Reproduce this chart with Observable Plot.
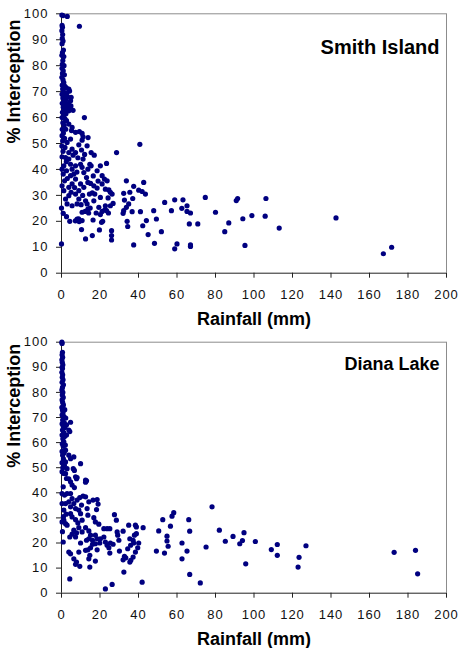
<!DOCTYPE html>
<html>
<head>
<meta charset="utf-8">
<script src="https://cdn.jsdelivr.net/npm/d3@7"></script>
<script src="https://cdn.jsdelivr.net/npm/@observablehq/plot@0.6"></script>
<style>
  html, body { margin: 0; padding: 0; background: white; }
  #chart { width: 459px; }
  svg { display: block; }
  g[aria-label="x-axis tick label"] text, g[aria-label="y-axis tick label"] text { letter-spacing: 1px; }
</style>
</head>
<body>
<div id="chart"></div>
<script>
const xTicks = [0, 20, 40, 60, 80, 100, 120, 140, 160, 180, 200];
const yTicks = [0, 10, 20, 30, 40, 50, 60, 70, 80, 90, 100];
const xLabel = "Rainfall (mm)";
const yLabel = "% Interception";
const titles = ["Smith Island", "Diana Lake"];

// [rainfall mm, % interception]
const smithPoints = [
  [0.2,99.5],[0.8,99.3],[3.0,99.0],[9.3,95.2],[0.3,95.5],[0.5,94.8],[0.2,93.5],[0.6,92.0],[0.4,90.5],[0.8,89.5],
  [0.3,88.5],[1.0,86.0],[0.5,85.0],[0.2,84.0],[1.2,83.5],[0.7,82.0],[0.4,80.5],[1.3,80.0],[0.3,79.0],[0.9,78.0],
  [0.5,77.0],[1.5,76.5],[0.2,75.5],[0.8,74.5],[1.2,73.5],[0.4,72.5],[1.8,72.0],[2.5,71.5],[0.6,71.0],[3.8,71.0],
  [1.0,70.0],[2.8,69.5],[0.3,69.0],[1.5,68.5],[3.2,68.0],[0.7,67.5],[2.2,67.0],[4.7,66.5],[1.2,66.0],[0.4,65.5],
  [3.6,65.5],[2.0,65.0],[4.9,64.5],[0.9,64.0],[2.8,63.5],[4.7,63.3],[1.6,62.8],[3.8,62.6],[6.0,62.8],[0.5,62.0],
  [2.3,61.5],[1.1,60.5],[0.3,60.0],[1.8,59.5],[2.6,58.8],[0.7,58.0],[3.8,57.5],[1.4,57.0],[5.5,56.2],[0.4,55.5],
  [2.2,55.5],[5.2,55.0],[7.3,54.3],[1.0,54.0],[9.3,54.6],[10.7,53.9],[0.3,53.0],[11.2,52.6],[13.8,52.3],[1.6,52.0],
  [4.7,51.7],[10.7,51.3],[0.6,51.0],[2.9,50.4],[9.0,49.5],[13.3,49.1],[0.2,49.0],[1.8,48.5],[5.5,47.8],[10.4,47.5],
  [0.8,47.0],[3.8,46.5],[7.3,46.5],[15.4,46.5],[28.6,46.5],[40.7,49.7],[11.9,60.0],[4.2,70.2],[5.0,67.8],[3.0,64.8],
  [0.3,44.9],[2.1,44.6],[3.8,44.0],[1.2,41.4],[0.3,40.1],[2.6,39.5],[4.7,42.0],[5.5,40.1],[6.4,38.2],[4.7,37.6],
  [7.3,41.4],[7.3,36.3],[5.5,34.4],[3.8,33.1],[0.3,33.7],[5.0,31.2],[3.8,29.9],[7.3,30.5],[9.0,31.8],[9.9,34.4],
  [9.9,42.0],[11.2,44.0],[10.7,40.8],[11.6,38.8],[13.7,40.1],[14.7,42.0],[15.4,41.4],[13.0,36.9],[13.7,35.0],[15.1,34.6],
  [16.8,33.7],[11.6,33.1],[9.0,28.6],[8.1,26.7],[5.5,26.0],[10.2,26.4],[12.5,27.9],[13.3,26.7],[13.7,24.7],[10.7,23.5],
  [16.8,27.9],[17.3,30.5],[18.5,32.8],[20.2,41.4],[23.4,42.3],[21.1,37.6],[22.3,36.3],[23.7,35.6],[21.1,34.4],[22.8,32.4],
  [24.6,32.1],[25.4,31.2],[26.3,30.5],[24.2,29.0],[26.8,26.9],[25.4,26.0],[22.8,26.0],[20.2,29.2],[19.4,25.4],[21.1,23.8],
  [23.4,24.1],[20.2,22.6],[20.8,19.6],[16.4,20.5],[10.7,20.3],[9.2,19.9],[8.1,20.9],[2.6,21.8],[4.3,20.0],[0.0,11.3],
  [0.0,25.1],[0.9,23.1],[10.4,16.8],[12.5,13.2],[16.0,14.5],[19.7,16.7],[26.0,16.4],[26.0,14.5],[26.0,12.8],[1.2,31.8],
  [2.1,28.6],[2.9,26.7],[0.9,38.2],[1.6,35.6],[14.1,23.2],[14.9,25.1],[12.3,23.8],[18.0,23.2],[22.6,24.5],[24.4,23.2],
  [21.4,20.0],[7.2,20.2],[8.9,21.0],[17.0,45.5],[6.0,45.5],[8.5,44.5],[12.0,45.8],[2.5,43.0],[18.5,39.5],[16.5,37.5],
  [8.0,39.0],[6.8,33.0],[11.0,30.0],[14.5,30.5],[19.0,35.5],[3.0,36.5],[16.0,31.0],
  [33.7,35.6],[37.5,33.5],[42.7,35.0],[32.3,30.8],[35.5,31.2],[40.1,32.0],[41.9,31.5],[43.6,30.5],[32.7,28.2],[37.0,28.8],
  [34.9,26.7],[33.7,25.4],[32.3,24.1],[32.0,23.1],[36.7,23.7],[41.0,23.7],[34.1,20.0],[34.4,18.0],[44.1,20.3],[42.2,18.3],
  [45.0,14.9],[37.5,10.9],[48.3,11.5],[49.3,20.9],[47.9,24.1],[51.9,16.0],[53.6,27.3],[57.1,24.1],[58.8,28.3],[58.8,9.4],
  [60.0,11.3],[63.1,28.3],[62.5,25.0],[65.2,26.0],[65.2,23.8],[67.0,23.2],[66.4,19.0],[67.0,10.9],[67.0,10.3],[70.8,19.0],
  [74.7,29.2],[80.0,23.5],[84.8,16.0],[86.9,19.4],[90.8,28.0],[91.5,28.8],[94.2,21.0],[98.9,22.2],[95.3,10.7],[106.2,28.8],
  [105.8,22.0],[113.1,17.4],[142.6,21.3],[167.2,7.5],[171.5,10.0]
];

const dianaPoints = [
  [0.2,100],[0.3,99.5],[0.5,96],[0.3,95],[0.6,94],[0.2,93],[0.4,92],[0.7,91],[0.3,90],[0.5,89.5],
  [0.2,88],[0.6,87],[0.4,86],[0.8,85],[0.3,84],[1.0,83],[0.5,82],[0.2,81],[0.7,80],[0.4,79],
  [0.9,78],[0.3,77],[0.6,76],[1.0,75],[0.2,74],[1.7,73.1],[0.5,73],[0.8,72],[0.3,71],[1.2,70.5],
  [2.2,69.8],[0.6,69],[4.7,68.1],[1.4,68],[0.3,67.5],[2.6,67.1],[0.9,66.5],[1.8,66],[3.8,65],[0.5,65],
  [4.3,64.4],[1.2,64],[2.6,63],[0.3,63],[1.6,62.4],[0.7,61.5],[1.2,60.3],[0.4,59.5],[2.0,59],[0.9,58.5],
  [2.1,57],[0.3,56.5],[1.4,56],[3.8,55],[0.6,55],[6.4,54.3],[4.7,53.6],[1.0,53.5],[2.1,52.3],[0.3,52],
  [9.9,51.6],[1.5,51],[0.7,50],[2.9,49.6],[6.1,49.6],[6.7,48.9],[0.3,48.4],[1.2,47.7],[2.1,47.6],[2.6,45.7],
  [3.8,45.6],[7.8,45.6],[12.5,44.2],[4.7,44.4],[5.5,43.1],[6.7,42.1],[0.9,42.4],[7.3,46.4],[8.1,46.1],[12.5,45.1],
  [13.0,44.8],
  [0.3,39.7],[1.6,39.1],[2.9,39.7],[4.7,39.7],[5.5,37.7],[3.8,36.4],[2.1,35.7],[0.3,35.7],[1.2,33.1],[1.2,29.1],
  [0.3,28.4],[2.1,27.7],[2.9,27.1],[0.9,20.4],[4.7,34.4],[6.4,35.7],[7.3,33.7],[8.1,37.1],[9.0,33.1],[9.9,31.7],
  [4.7,31.7],[5.5,30.4],[7.3,29.3],[9.5,38.1],[11.2,38.7],[12.5,38.4],[10.4,35.1],[13.3,33.7],[14.2,36.4],[16.4,37.1],
  [18.5,37.3],[19.0,35.5],[18.2,33.3],[13.7,31.1],[16.8,30.1],[17.6,28.4],[19.4,27.5],[10.7,29.1],[8.5,28.0],[6.4,25.1],
  [9.0,26.1],[7.8,24.0],[5.5,23.5],[4.3,22.4],[7.3,22.4],[10.7,24.4],[12.5,26.1],[14.2,24.8],[15.1,23.1],[17.6,23.1],
  [14.2,21.7],[13.0,21.1],[16.1,21.1],[18.5,21.7],[19.9,20.0],[17.6,19.7],[16.1,19.5],[15.1,18.1],[9.9,20.0],[12.5,17.1],
  [13.7,17.3],[14.7,15.1],[14.2,13.7],[17.6,12.8],[18.5,17.3],[9.0,16.4],[3.8,16.4],[4.7,15.7],[6.4,13.7],[7.8,12.4],
  [7.3,11.5],[9.5,10.7],[14.7,10.4],[4.3,5.7],[22.8,1.7],[26.3,3.5],[41.9,4.4],[1.0,30.5],[0.5,24.5],[2.4,31.5],
  [22.0,25.7],[23.7,25.7],[25.1,25.7],[27.5,31.3],[28.5,29.1],[28.9,24.4],[29.2,23.1],[29.8,21.1],[22.0,22.4],[20.2,21.7],
  [22.8,20.4],[23.7,19.1],[24.6,18.1],[25.1,16.0],[25.4,20.0],[26.8,19.5],[30.1,16.8],[32.0,24.7],[32.7,14.7],[32.0,13.3],
  [32.4,8.4],[33.4,14.1],[34.9,27.1],[35.5,21.7],[35.9,19.1],[34.4,17.7],[36.0,13.1],[35.5,12.4],[37.2,14.4],[37.2,21.1],
  [37.5,20.0],[37.9,23.1],[38.4,27.1],[38.9,23.7],[38.9,26.4],[38.4,16.4],[39.6,18.1],[40.1,20.0],[42.4,26.1],
  [49.3,16.8],[50.5,24.8],[52.6,29.3],[53.5,16.0],[54.8,20.8],[54.8,22.7],[55.4,18.7],[56.6,26.7],[57.4,30.7],[58.3,32.1],
  [62.6,20.0],[62.6,13.7],[65.2,16.8],[66.1,29.3],[66.6,24.7],[66.6,7.5],[72.1,4.1],[75.1,18.4],[78.2,34.4],[82.0,25.1],
  [85.1,20.7],[89.1,22.6],[92.6,19.7],[94.0,21.0],[94.8,24.1],[95.7,11.7],[100.7,20.6],[109.0,17.4],[112.1,19.4],[112.1,15.1],
  [122.9,10.4],[123.4,14.3],[127.0,18.9],[172.8,16.3],[183.9,17.1],[185.0,7.7]
];

const font = "Arial, 'Liberation Sans', sans-serif";

function panel(points, title, height, marginTop, marginBottom, titleDy, titleSize) {
  return Plot.plot({
    width: 459,
    height,
    marginTop,
    marginBottom,
    marginLeft: 61,
    marginRight: 13,
    x: {domain: [0, 200]},
    y: {domain: [0, 100]},
    style: {fontFamily: font, background: "white", color: "black", overflow: "visible"},
    marks: [
      Plot.ruleY([100], {stroke: "#8c8c8c", strokeWidth: 1}),
      Plot.ruleX([200], {stroke: "#8c8c8c", strokeWidth: 1}),
      Plot.axisX(xTicks, {tickSize: 5, tickPadding: 12, fontSize: 13, label: null, stroke: "#222", fill: "#111", tickFormat: d => String(d)}),
      Plot.axisY(yTicks, {tickSize: 5, tickPadding: 8, fontSize: 13, label: null, stroke: "#222", fill: "#111", tickFormat: d => String(d)}),
      Plot.ruleY([0], {stroke: "#222"}),
      Plot.ruleX([0], {stroke: "#222"}),
      Plot.dot(points, {x: d => d[0], y: d => d[1], r: 2.6, fill: "#000080", stroke: null}),
      Plot.text([title], {frameAnchor: "top-right", textAnchor: "end", lineAnchor: "top", dx: -7, dy: titleDy, fontSize: titleSize, fontWeight: "bold", fill: "black"}),
      Plot.text([xLabel], {frameAnchor: "bottom", lineAnchor: "top", dy: 39, fontSize: 18, fontWeight: "bold", fill: "black"}),
      Plot.text([yLabel], {frameAnchor: "left", rotate: -90, lineAnchor: "top", dx: -54, fontSize: 18, fontWeight: "bold", fill: "black"})
    ]
  });
}

const chart = document.getElementById("chart");
chart.appendChild(panel(smithPoints, titles[0], 330, 13.3, 57.3, 26, 20));
chart.appendChild(panel(dianaPoints, titles[1], 318, 11.7, 55.3, 15.3, 18));
</script>
</body>
</html>
